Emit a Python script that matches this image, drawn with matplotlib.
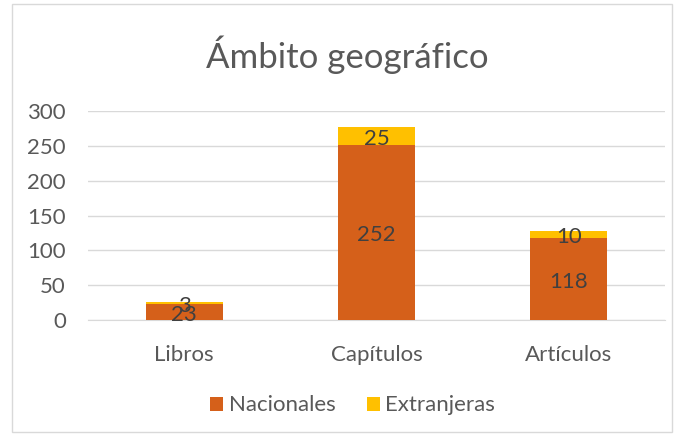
import matplotlib
matplotlib.use("Agg")
import matplotlib.pyplot as plt
from matplotlib.patches import Rectangle
from matplotlib.transforms import offset_copy

categories = ["Libros", "Capítulos", "Artículos"]
nacionales = [23, 252, 118]
extranjeras = [3, 25, 10]
yticks = [0, 50, 100, 150, 200, 250, 300]

plt.rcParams['font.family'] = ['Lato', 'DejaVu Sans']
txt = "#595959"
c_nac = "#D5601A"
c_ext = "#FFC000"

fig = plt.figure(figsize=(6.78, 4.36), dpi=100)
ax = fig.add_axes([0.130, 0.266, 0.851, 0.479])
tr = offset_copy(ax.transData, fig=fig, x=0, y=-3, units="dots")

x = list(range(len(categories)))
w = 0.40
b1 = ax.bar(x, nacionales, width=w, color=c_nac, label="Nacionales", zorder=3)
b2 = ax.bar(x, extranjeras, width=w, bottom=nacionales, color=c_ext, label="Extranjeras", zorder=3)
for rect, v in zip(b1, nacionales):
    ax.text(rect.get_x() + rect.get_width()/2, v/2, str(v), ha="center", va="center",
            fontsize=16, color="#404040", zorder=4, transform=tr)
for rect, v, base in zip(b2, extranjeras, nacionales):
    ax.text(rect.get_x() + rect.get_width()/2, base + v/2, str(v), ha="center", va="center",
            fontsize=16, color="#404040", zorder=4, transform=tr)

ax.set_xlim(-0.5, 2.5)
ax.set_ylim(0, 300)
ax.set_yticks(yticks)
ax.set_yticklabels([str(t) for t in yticks], fontsize=16, color=txt)
ax.set_xticks(x)
ax.set_xticklabels(categories, fontsize=16, color=txt)
ax.tick_params(axis="both", length=0)
ax.tick_params(axis="y", pad=16)
ax.tick_params(axis="x", pad=18)
ax.grid(axis="y", color="#D9D9D9", linewidth=1, zorder=0)
for s in ["top", "right", "left"]:
    ax.spines[s].set_visible(False)
ax.spines["bottom"].set_color("#D9D9D9")

fig.text(0.512, 0.875, "Ámbito geográfico", ha="center", va="center", fontsize=25, color=txt)

leg = fig.legend(handles=[b1, b2], labels=["Nacionales", "Extranjeras"], loc="center",
                 bbox_to_anchor=(0.52, 0.07), ncol=2, frameon=False, fontsize=16,
                 handlelength=0.6, handleheight=0.6, handletextpad=0.25, columnspacing=1.4)
for t in leg.get_texts():
    t.set_color(txt)

fig.patches.append(Rectangle((12/678, 4/436), 660/678, 428/436, transform=fig.transFigure,
                             fill=False, edgecolor="#D9D9D9", linewidth=1))

fig.savefig("out.png", dpi=100)
